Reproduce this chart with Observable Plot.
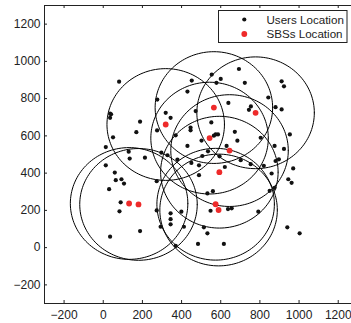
<!DOCTYPE html>
<html><head><meta charset="utf-8">
<script src="https://cdn.jsdelivr.net/npm/d3@7"></script>
<script src="https://cdn.jsdelivr.net/npm/@observablehq/plot@0.6"></script>
<style>html,body{margin:0;padding:0;background:#fff;overflow:hidden}</style>
</head><body><div id="chart"></div>
<script>
// Users (black dots)
const userX = [81,452,430,276,35,40,35,188,319,344,472,169,275,446,446,50,370,13,130,430,
  135,213,13,59,64,93,106,30,273,89,83,273,344,344,344,399,293,412,188,35,
  484,297,328,379,450,489,489,554,693,600,578,723,911,923,843,639,754,744,880,911,
  552,574,586,565,672,685,804,953,502,630,875,923,535,506,594,702,753,820,880,897,
  621,970,860,945,962,875,850,532,560,548,637,656,792,514,532,940,1003,616,370];
const userY = [891,897,838,795,719,716,697,676,724,697,733,620,629,645,630,592,603,540,515,546,
  478,483,442,403,362,367,344,314,357,243,195,200,184,153,125,193,112,112,89,59,
  20,510,496,473,455,442,389,929,959,906,885,885,893,866,806,777,758,740,754,742,
  672,608,608,601,622,574,590,608,575,546,546,530,517,492,490,469,448,439,465,474,
  433,425,398,367,348,321,305,291,303,198,207,211,193,109,77,109,77,20,9];
// Small base stations (red dots)
const sbsX = [319,565,778,543,645,593,574,589,132,180];
const sbsY = [661,752,724,588,521,405,233,202,237,232];
const coverageRadius = 300;
const xTicks = [-200,0,200,400,600,800,1000,1200];
const yTicks = [-200,0,200,400,600,800,1000,1200];
const legendLabels = ["Users Location","SBSs Location"];
const legendColors = ["#111111","#ee2a2a"];

const users = userX.map((x,i)=>({x, y:userY[i]}));
const sbs = sbsX.map((x,i)=>({x, y:sbsY[i]}));
const ring = [];
sbs.forEach((s,i)=>{
  for(let k=0;k<=144;k++){
    const a = 2*Math.PI*k/144;
    ring.push({id:i, x:s.x+coverageRadius*Math.cos(a), y:s.y+coverageRadius*Math.sin(a)});
  }
});

const W = 351, H = 323, mL = 44, mT = 5, mB = 20, mR = -6.3;
const frameW = W - mL - mR, frameH = H - mT - mB;
const tk = 3;
const fmt = d => d < 0 ? "\u2212" + Math.abs(d) : String(d);

const svg = Plot.plot({
  width: W, height: H,
  marginLeft: mL, marginTop: mT, marginBottom: mB, marginRight: mR,
  x: {domain: [-300,1300]},
  y: {domain: [-300,1300]},
  style: {fontFamily: "'Liberation Sans', Arial, sans-serif", fontSize: "12px", color: "#222", background: "#fff", overflow: "hidden"},
  marks: [
    Plot.line(ring, {x:"x", y:"y", z:"id", stroke:"#000", strokeWidth:1}),
    Plot.dot(users, {x:"x", y:"y", r:2.1, fill:legendColors[0], stroke:"none"}),
    Plot.dot(sbs, {x:"x", y:"y", r:2.9, fill:legendColors[1], stroke:"none"}),
    Plot.frame({stroke:"#222", strokeWidth:1}),
    Plot.tickX(xTicks, {x:d=>d, insetTop:frameH-tk, stroke:"#222"}),
    Plot.tickX(xTicks, {x:d=>d, insetBottom:frameH-tk, stroke:"#222"}),
    Plot.tickY(yTicks, {y:d=>d, insetRight:frameW-tk, stroke:"#222"}),
    Plot.axisX(xTicks, {anchor:"bottom", tickSize:0, tickPadding:7, label:null, tickFormat:fmt}),
    Plot.axisY(yTicks, {anchor:"left", tickSize:0, tickPadding:4, label:null, tickFormat:fmt})
  ]
});

// Legend box (top-right, inside the axes)
const g = d3.select(svg).append("g")
  .attr("font-family", "'Liberation Sans', Arial, sans-serif")
  .attr("font-size", "11.6px")
  .attr("text-anchor", "start");
g.append("rect").attr("x",218.5).attr("y",10.5).attr("width",128.5).attr("height",32)
  .attr("fill","#fff").attr("stroke","#222").attr("stroke-width",1);
legendLabels.forEach((lab,i)=>{
  const cy = 19.5 + i*14.5;
  g.append("circle").attr("cx",244.3).attr("cy",cy).attr("r", i===0?2.1:2.9).attr("fill",legendColors[i]);
  g.append("text").attr("x",266.5).attr("y",cy+4.2).attr("fill","#222").attr("text-anchor","start").text(lab);
});

document.getElementById("chart").appendChild(svg);
</script>
</body></html>
